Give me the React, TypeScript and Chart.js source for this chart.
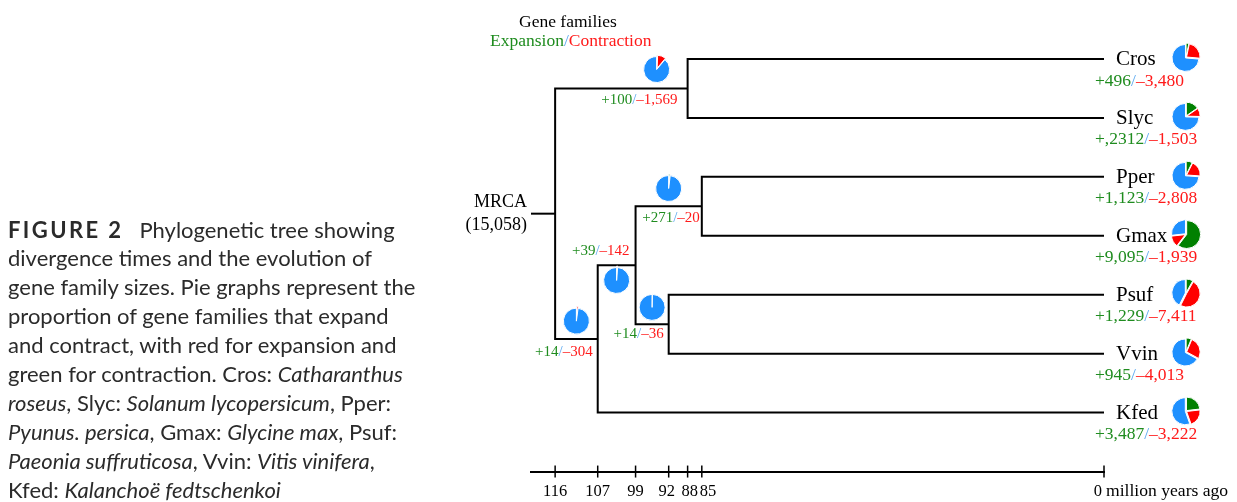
import React, { useEffect, useRef } from 'react';
import { Chart, registerables } from 'chart.js';

Chart.register(...registerables);

// ---------------- data ----------------
const TOTAL_FAMILIES = 15058;
const rootLabel = 'MRCA';
const rootCountText = '(15,058)';

const tipNames = ['Cros', 'Slyc', 'Pper', 'Gmax', 'Psuf', 'Vvin', 'Kfed'];
const tipExpansion = [496, 2312, 1123, 9095, 1229, 945, 3487];
const tipContraction = [3480, 1503, 2808, 1939, 7411, 4013, 3222];
const tipExpansionText = ['+496', '+,2312', '+1,123', '+9,095', '+1,229', '+945', '+3,487'];
const tipContractionText = ['–3,480', '–1,503', '–2,808', '–1,939', '–7,411', '–4,013', '–3,222'];

// internal nodes (divergence time in Mya) and their children (tip name or node index)
const nodeAges = [88, 85, 92, 99, 107, 116];
const nodeChildren: (string | number)[][] = [
  ['Cros', 'Slyc'],
  ['Pper', 'Gmax'],
  ['Psuf', 'Vvin'],
  [1, 2],
  [3, 'Kfed'],
  [0, 4],
];
const nodeExpansion = [100, 271, 14, 39, 14];
const nodeContraction = [1569, 20, 36, 142, 304];
const nodeExpansionText = ['+100', '+271', '+14', '+39', '+14'];
const nodeContractionText = ['–1,569', '–20', '–36', '–142', '–304'];

const axisTicks = [116, 107, 99, 92, 88, 85, 0];
const axisUnit = 'million years ago';

// ---------------- layout / style ----------------
const X_MAX = 121.1;
const Y_MIN = -1;
const Y_MAX = 7;
// pie placement along branch (age) and vertical offset (px) for internal nodes
const nodePieAge = [94.5, 92, 95.5, 103, 111.5];
const nodePieDy = [-19.5, -18.5, -17.5, 14.5, -18.5];
const nodeLabelDx = [-10, -2, -5, -6, -5];
const nodeLabelDy = [12, 12, 10, -14, 13];
const tickLabelPad: Record<number, [number, number]> = { 92: [0, 1], 88: [1, 0], 85: [3, 0], 0: [0, 3] };

const BLUE = '#1e90ff';
const PIE_GREEN = '#008000';
const PIE_RED = '#ff0000';
const TXT_GREEN = '#1f8c1f';
const TXT_RED = '#ff1a1a';
const SLASH = '#5aa8f0';
const SERIF = '"Liberation Serif", "Times New Roman", serif';

function childAge(c: string | number) {
  return typeof c === 'string' ? 0 : nodeAges[c];
}

function computeNodeY(): number[] {
  const ys: number[] = [];
  nodeChildren.forEach((ch, k) => {
    const v = ch.map((c) => (typeof c === 'string' ? tipNames.indexOf(c) : ys[c]));
    ys[k] = (v[0] + v[1]) / 2;
  });
  return ys;
}
const nodeY = computeNodeY();
const childY = (c: string | number) => (typeof c === 'string' ? tipNames.indexOf(c) : nodeY[c]);

function drawPie(ctx: CanvasRenderingContext2D, cx: number, cy: number, r: number, exp: number, con: number) {
  const fr = [exp / TOTAL_FAMILIES, con / TOTAL_FAMILIES, 1 - (exp + con) / TOTAL_FAMILIES];
  const cols = [PIE_GREEN, PIE_RED, BLUE];
  let a = -Math.PI / 2;
  fr.forEach((f, i) => {
    if (f <= 0) return;
    const a2 = a + f * Math.PI * 2;
    const mid = (a + a2) / 2;
    const off = 0.7;
    const ox = cx + Math.cos(mid) * off;
    const oy = cy + Math.sin(mid) * off;
    ctx.beginPath();
    ctx.moveTo(ox, oy);
    ctx.arc(ox, oy, r, a, a2);
    ctx.closePath();
    ctx.fillStyle = cols[i];
    ctx.fill();
    ctx.strokeStyle = '#ffffff';
    ctx.lineWidth = 1;
    ctx.stroke();
    a = a2;
  });
}

function drawSegs(
  ctx: CanvasRenderingContext2D,
  segs: [string, string][],
  x: number,
  y: number,
  align: 'left' | 'right' | 'center',
  font: string
) {
  ctx.font = font;
  ctx.textBaseline = 'middle';
  ctx.textAlign = 'left';
  const widths = segs.map((s) => ctx.measureText(s[0]).width);
  const total = widths.reduce((p, c) => p + c, 0);
  let sx = align === 'left' ? x : align === 'right' ? x - total : x - total / 2;
  segs.forEach((s, i) => {
    ctx.fillStyle = s[1];
    ctx.fillText(s[0], sx, y);
    sx += widths[i];
  });
}

const treeDecor = {
  id: 'treeDecor',
  afterDatasetsDraw(chart: any) {
    const { ctx } = chart;
    const xs = chart.scales.x;
    const ys = chart.scales.y;
    ctx.save();

    // header
    const top = ys.getPixelForValue(Y_MIN);
    drawSegs(ctx, [['Gene families', '#000']], xs.getPixelForValue(113.3), top + 22, 'center', `17.5px ${SERIF}`);
    drawSegs(
      ctx,
      [['Expansion', TXT_GREEN], ['/', SLASH], ['Contraction', TXT_RED]],
      xs.getPixelForValue(112.7),
      top + 41,
      'center',
      `17.5px ${SERIF}`
    );

    // root
    const rootY = ys.getPixelForValue(nodeY[nodeY.length - 1]);
    const rootX = xs.getPixelForValue(X_MAX) - 4;
    drawSegs(ctx, [[rootLabel, '#000']], rootX, rootY - 11, 'right', `18px ${SERIF}`);
    drawSegs(ctx, [[rootCountText, '#000']], rootX, rootY + 12, 'right', `18px ${SERIF}`);

    // internal nodes
    nodeExpansion.forEach((e, k) => {
      const by = ys.getPixelForValue(nodeY[k]);
      const nx = xs.getPixelForValue(nodeAges[k]);
      drawPie(ctx, xs.getPixelForValue(nodePieAge[k]), by + nodePieDy[k], 13, e, nodeContraction[k]);
      drawSegs(
        ctx,
        [[nodeExpansionText[k], TXT_GREEN], ['/', SLASH], [nodeContractionText[k], TXT_RED]],
        nx + nodeLabelDx[k],
        by + nodeLabelDy[k],
        'right',
        `15px ${SERIF}`
      );
    });

    // tips
    tipNames.forEach((name, i) => {
      const tx = xs.getPixelForValue(0);
      const ty = ys.getPixelForValue(i);
      drawSegs(ctx, [[name, '#000']], tx + 12, ty + 1, 'left', `21px ${SERIF}`);
      drawSegs(
        ctx,
        [[tipExpansionText[i], TXT_GREEN], ['/', SLASH], [tipContractionText[i], TXT_RED]],
        tx - 9,
        ty + 22,
        'left',
        `17.5px ${SERIF}`
      );
      drawPie(ctx, tx + 82, ty - 1.5, i === 3 ? 14 : 13.5, tipExpansion[i], tipContraction[i]);
    });

    // axis unit
    const ay = ys.getPixelForValue(Y_MAX) + 19.5;
    ctx.font = `17.6px ${SERIF}`;
    ctx.fillStyle = '#000';
    ctx.textAlign = 'left';
    ctx.textBaseline = 'middle';
    ctx.fillText(axisUnit, xs.getPixelForValue(0) + 2, ay);
    ctx.restore();
  },
};

export default function App() {
  const ref = useRef<HTMLCanvasElement>(null);

  useEffect(() => {
    if (!ref.current) return;
    const lineStyle = {
      showLine: true,
      borderColor: '#000',
      borderWidth: 2,
      pointRadius: 0,
      pointHoverRadius: 0,
      fill: false,
      tension: 0,
      borderJoinStyle: 'miter' as const,
      clip: false as const,
    };
    const datasets: any[] = nodeChildren.map((ch, k) => ({
      ...lineStyle,
      data: [
        { x: childAge(ch[0]), y: childY(ch[0]) },
        { x: nodeAges[k], y: childY(ch[0]) },
        { x: nodeAges[k], y: childY(ch[1]) },
        { x: childAge(ch[1]), y: childY(ch[1]) },
      ],
    }));
    const rootIdx = nodeAges.length - 1;
    datasets.push({
      ...lineStyle,
      data: [
        { x: X_MAX, y: nodeY[rootIdx] },
        { x: nodeAges[rootIdx], y: nodeY[rootIdx] },
      ],
    });
    datasets.push({
      showLine: false,
      data: axisTicks.map((t) => ({ x: t, y: Y_MAX })),
      pointStyle: 'line',
      pointRotation: 90,
      pointRadius: 6,
      pointHoverRadius: 6,
      pointBorderWidth: 1.5,
      pointBorderColor: '#000',
      pointBackgroundColor: '#000',
      clip: false,
    });

    const chart = new Chart(ref.current, {
      type: 'scatter',
      data: { datasets },
      options: {
        animation: false,
        responsive: false,
        devicePixelRatio: 1,
        events: [],
        layout: { autoPadding: false, padding: { left: 531, right: 133, top: 0, bottom: -10.5 } },
        plugins: { legend: { display: false }, tooltip: { enabled: false } },
        scales: {
          x: {
            type: 'linear',
            reverse: true,
            min: 0,
            max: X_MAX,
            afterBuildTicks: (scale: any) => {
              scale.ticks = axisTicks.map((v) => ({ value: v }));
            },
            grid: { display: false, drawTicks: false },
            border: { display: true, color: '#000', width: 2 },
            ticks: {
              autoSkip: false,
              maxRotation: 0,
              padding: 11.4,
              color: '#000',
              font: { family: SERIF, size: 16.5, lineHeight: 1.1 },
              callback: (v: any) => {
                const p = tickLabelPad[v as number] || [0, 0];
                return ' '.repeat(p[0]) + String(v) + ' '.repeat(p[1]);
              },
            },
          },
          y: {
            type: 'linear',
            reverse: true,
            min: Y_MIN,
            max: Y_MAX,
            display: false,
          },
        },
      },
      plugins: [treeDecor],
    });
    return () => chart.destroy();
  }, []);

  const lines: React.ReactNode[] = [
    <>
      <span style={{ fontWeight: 700, letterSpacing: '2.4px', marginRight: 16 }}>FIGURE 2</span>
      Phylogenetic tree showing
    </>,
    <>divergence times and the evolution of</>,
    <>gene family sizes. Pie graphs represent the</>,
    <>proportion of gene families that expand</>,
    <>and contract, with red for expansion and</>,
    <>
      green for contraction. Cros: <i>Catharanthus</i>
    </>,
    <>
      <i>roseus</i>, Slyc: <i>Solanum lycopersicum</i>, Pper:
    </>,
    <>
      <i>Pyunus. persica</i>, Gmax: <i>Glycine max</i>, Psuf:
    </>,
    <>
      <i>Paeonia suffruticosa</i>, Vvin: <i>Vitis vinifera</i>,
    </>,
    <>
      Kfed: <i>Kalanchoë fedtschenkoi</i>
    </>,
  ];

  return (
    <div style={{ position: 'absolute', left: 0, top: 0, width: 1237, height: 502, overflow: 'hidden', background: '#fff' }}>
      <canvas ref={ref} width={1237} height={502} style={{ position: 'absolute', left: 0, top: 0 }} />
      <div
        style={{
          position: 'absolute',
          left: 8,
          top: 215.5,
          fontFamily: 'Lato, "Open Sans", sans-serif',
          fontSize: 22,
          lineHeight: '28.9px',
          color: '#2b2b2b',
          whiteSpace: 'nowrap',
        }}
      >
        {lines.map((l, i) => (
          <div key={i}>{l}</div>
        ))}
      </div>
    </div>
  );
}
